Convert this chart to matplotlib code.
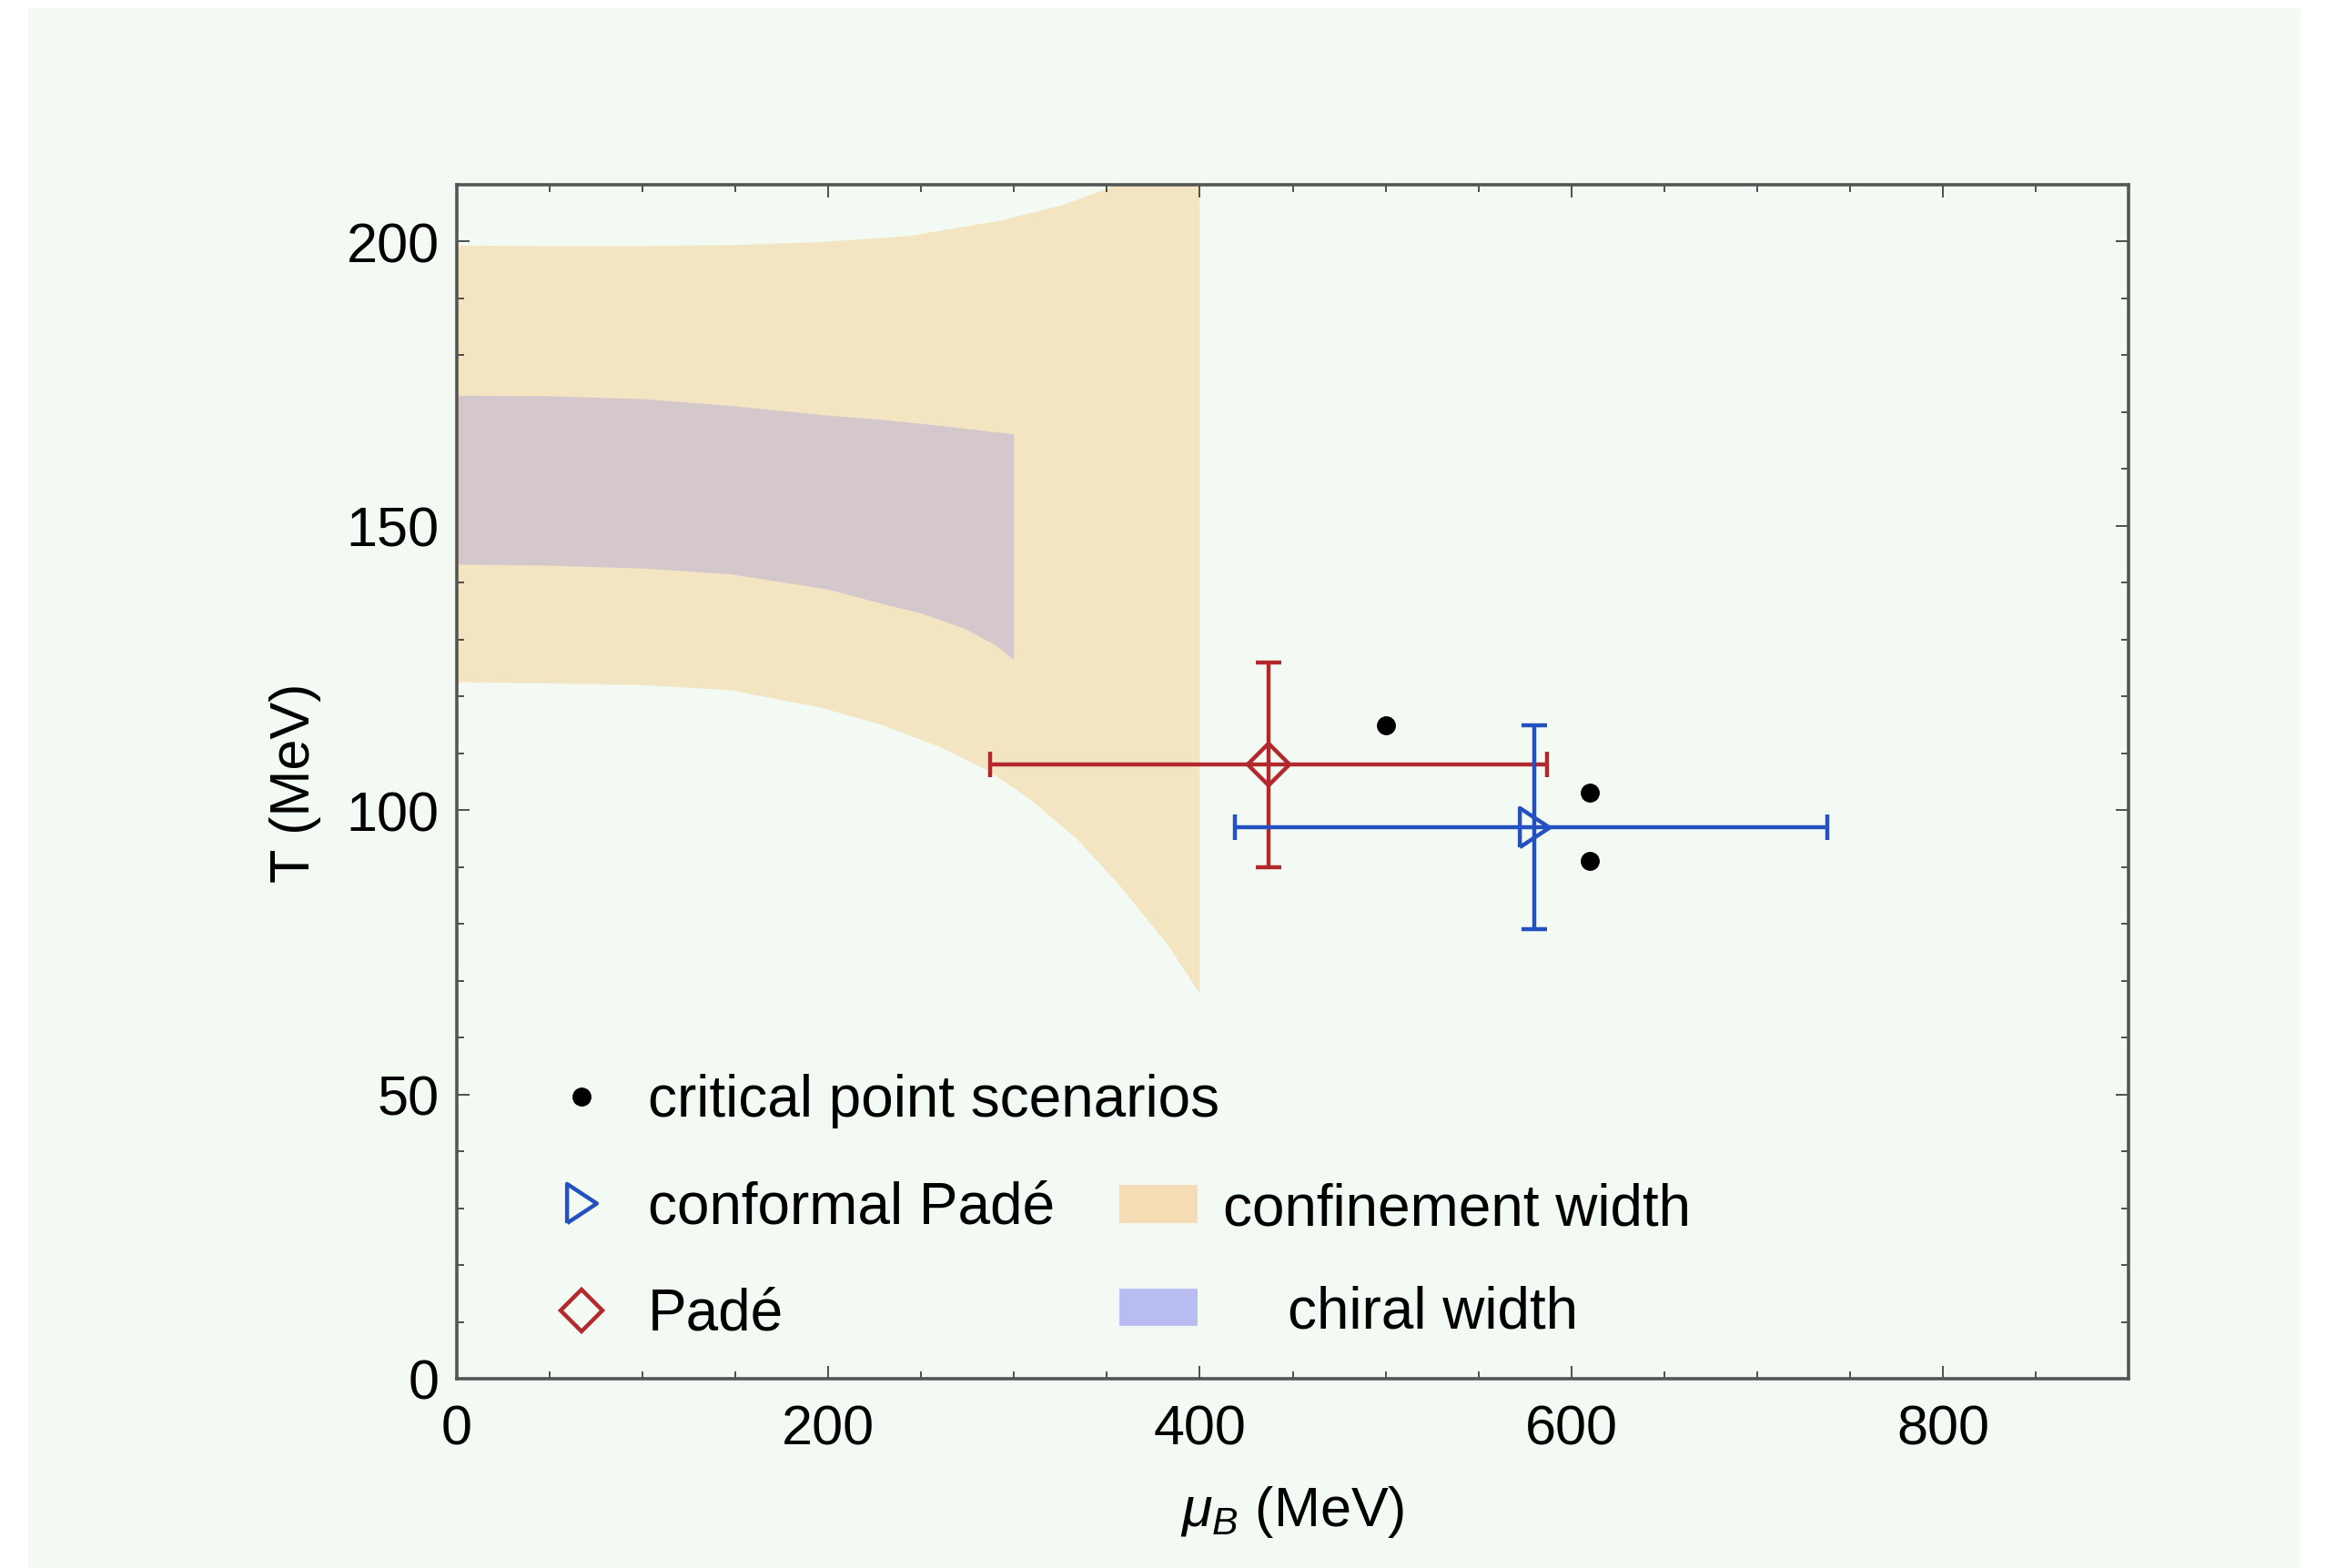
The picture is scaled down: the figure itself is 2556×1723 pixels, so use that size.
import matplotlib
matplotlib.use('Agg')
import matplotlib.pyplot as plt
from matplotlib.lines import Line2D
from matplotlib.patches import Patch, Rectangle
from matplotlib.ticker import MultipleLocator

plt.rcParams['font.family'] = ['Liberation Sans', 'DejaVu Sans']
plt.rcParams['mathtext.fontset'] = 'custom'
plt.rcParams['mathtext.it'] = 'Liberation Sans:italic'
plt.rcParams['mathtext.rm'] = 'Liberation Sans'

# confinement width band
conf_up_mu = [0, 50, 100, 150, 195, 244, 293, 326, 350, 357, 380, 400]
conf_up_T = [199.3, 199.2, 199.2, 199.4, 199.9, 201.0, 203.7, 206.4, 209.3, 210.1, 213.0, 216.0]
conf_lo_mu = [400, 383, 358, 334, 309, 286.5, 260, 228, 195, 147, 100, 50, 0]
conf_lo_T = [67.7, 76.2, 86.3, 94.9, 101.8, 106.9, 111.1, 115.1, 118.1, 121.1, 122.0, 122.3, 122.5]

# chiral width band
chir_up_mu = [0, 50, 100, 147, 200, 231, 260, 300]
chir_up_T = [172.9, 172.8, 172.3, 171.1, 169.4, 168.6, 167.6, 166.1]
chir_lo_mu = [300, 290, 273.5, 250, 231, 200, 147, 100, 50, 0]
chir_lo_T = [126.4, 129.0, 131.9, 134.6, 136.1, 138.8, 141.5, 142.5, 143.0, 143.2]

# critical point scenarios
cp_mu = [500, 610, 610]
cp_T = [115, 103, 91]

# Pade estimates: value, lower/upper err
pade_mu, pade_mu_err = 437, [[150], [150]]
pade_T, pade_T_err = 108, [[18], [18]]
cpade_mu, cpade_mu_err = 580, [[161], [158]]
cpade_T, cpade_T_err = 97, [[18], [18]]

mint = '#f2faf3'
c_conf = '#f3e5c2'
c_chir = '#d5c8cd'
c_conf_leg = '#f5dcb4'
c_chir_leg = '#b9bcf0'
red = '#b3282d'
blue = '#2450c0'

fig = plt.figure(figsize=(12.78, 8.62), dpi=200, facecolor='white')
fig.patches.append(Rectangle((31 / 2556, 0), (2528 - 31) / 2556, (1724 - 10) / 1724,
                             transform=fig.transFigure, facecolor=mint, edgecolor='none', zorder=-10))
ax = fig.add_axes([502 / 2556, 1 - 1516 / 1724, (2339 - 502) / 2556, (1516 - 204) / 1724])
ax.set_facecolor(mint)

ax.fill(conf_up_mu + conf_lo_mu, conf_up_T + conf_lo_T, color=c_conf, lw=0, zorder=1)
ax.fill(chir_up_mu + chir_lo_mu, chir_up_T + chir_lo_T, color=c_chir, lw=0, zorder=2)

lw = 1.6
ax.errorbar(pade_mu, pade_T, xerr=pade_mu_err, yerr=pade_T_err, fmt='none',
            ecolor=red, elinewidth=lw, capsize=5, capthick=lw, zorder=4)
ax.plot(pade_mu, pade_T, 'D', ms=11.5, mfc='none', mec=red, mew=lw, zorder=5)
ax.errorbar(cpade_mu, cpade_T, xerr=cpade_mu_err, yerr=cpade_T_err, fmt='none',
            ecolor=blue, elinewidth=lw, capsize=5, capthick=lw, zorder=4)
tri = [(-0.38, -0.5), (0.38, 0.0), (-0.38, 0.5), (-0.38, -0.5)]
ax.plot(cpade_mu, cpade_T, marker=tri, ms=15.5, mfc='none', mec=blue, mew=lw, ls='none', zorder=5)
ax.plot(cp_mu, cp_T, 'o', color='black', ms=6.5, ls='none', zorder=6)

ax.set_xlim(0, 900)
ax.set_ylim(0, 210)
ax.xaxis.set_major_locator(MultipleLocator(200))
ax.xaxis.set_minor_locator(MultipleLocator(50))
ax.yaxis.set_major_locator(MultipleLocator(50))
ax.yaxis.set_minor_locator(MultipleLocator(10))
ax.tick_params(which='both', direction='in', top=True, right=True, color='#333333', width=0.6)
ax.tick_params(which='major', length=5, labelsize=22)
ax.tick_params(which='minor', length=3)
ax.tick_params(axis='x', which='major', pad=10)
ax.tick_params(axis='y', which='major', pad=7)
for sp in ax.spines.values():
    sp.set_color('#555555')
    sp.set_linewidth(1.3)

ax.set_xlabel(r'$\mu_B$ (MeV)', fontsize=22, labelpad=11)
ax.set_ylabel('T (MeV)', fontsize=22, labelpad=10)

fs = 23
h_cp = Line2D([], [], marker='o', color='black', ms=6.5, ls='none')
h_cpade = Line2D([], [], marker=tri, ms=15.5, mfc='none', mec=blue, mew=lw, ls='none')
h_pade = Line2D([], [], marker='D', ms=11.5, mfc='none', mec=red, mew=lw, ls='none')
common = dict(frameon=False, fontsize=fs, borderpad=0, borderaxespad=0,
              labelspacing=0.9, handleheight=0.55)
legA = ax.legend([h_cp, h_cpade, h_pade],
                 ['critical point scenarios', 'conformal Padé', 'Padé'],
                 loc='center left', bbox_to_anchor=(0.057, 0.144),
                 handlelength=1.0, handletextpad=0.65, **common)
ax.add_artist(legA)
legB = ax.legend([Patch(color=c_conf_leg)], ['confinement width'],
                 loc='center left', bbox_to_anchor=(0.397, 0.1425),
                 handlelength=1.3, handletextpad=0.47, **common)
ax.add_artist(legB)
legC = ax.legend([Patch(color=c_chir_leg)], ['chiral width'],
                 loc='center left', bbox_to_anchor=(0.397, 0.056),
                 handlelength=1.3, handletextpad=1.57, **common)

fig.savefig('out.png', dpi=200, facecolor='white')
